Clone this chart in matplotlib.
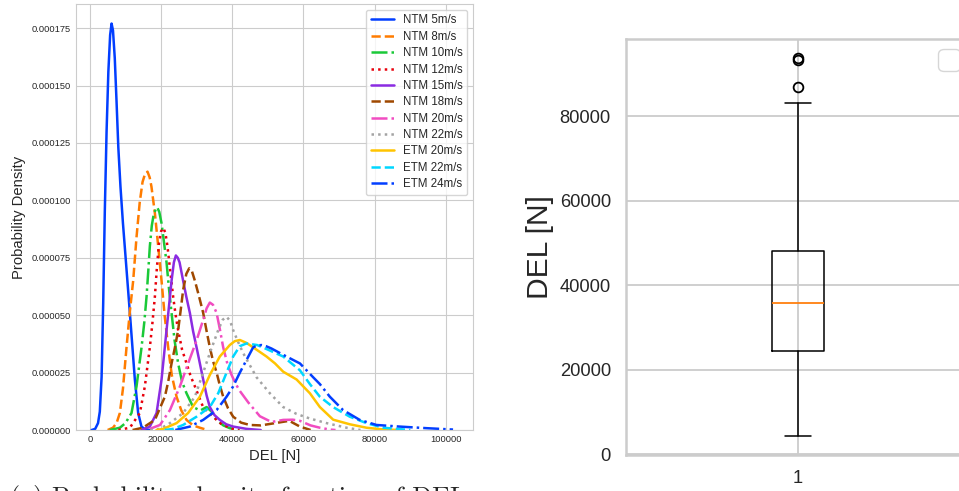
import numpy as np
import matplotlib
matplotlib.use("Agg")
import matplotlib.pyplot as plt
import seaborn as sns

# values
# density curves: x in N, y in units of 1e-5 (probability density)
ntm5_x = [500, 1500, 2300, 2800, 3300, 3750, 4200, 4700, 5200, 5700, 6100, 6500, 7000, 7500, 8000, 8600, 9300, 10000, 11240, 12640, 13570, 14500, 15500, 17000]
ntm5_y = [0, 0.05, 0.3, 0.8, 2.3, 5.5, 9.5, 13.0, 15.6, 17.2, 17.7, 17.4, 16.2, 14.3, 12.3, 10.6, 9.0, 7.6, 5.1, 2.2, 0.74, 0.15, 0.03, 0]

ntm8_x = [5000, 6500, 7500, 8430, 9300, 10300, 11200, 12170, 13110, 14000, 14800, 15500, 16200, 16800, 17300, 18260, 19200, 20140, 21000, 22000, 23000, 24350, 25700, 27150, 29000, 30900, 33000]
ntm8_y = [0, 0.1, 0.3, 0.74, 1.8, 3.6, 5.1, 6.5, 8.4, 9.9, 10.8, 11.15, 11.25, 11.0, 10.6, 9.45, 8.0, 6.5, 5.0, 3.6, 2.4, 1.45, 0.85, 0.44, 0.2, 0.1, 0]

ntm10_x = [5600, 8430, 10000, 11700, 13110, 14520, 15300, 15920, 16400, 16850, 17400, 18000, 18900, 19500, 20140, 20800, 21540, 22200, 22950, 23800, 24800, 25900, 27150, 29000, 31000, 32800, 34200, 35600, 37500, 39300, 42000]
ntm10_y = [0, 0.1, 0.3, 0.74, 1.9, 3.6, 4.7, 5.8, 6.9, 8.0, 8.9, 9.45, 9.7, 9.5, 9.0, 8.2, 7.3, 6.2, 5.1, 3.9, 2.9, 2.1, 1.6, 1.0, 0.85, 1.0, 0.8, 0.44, 0.2, 0.08, 0]

ntm12_x = [8000, 11240, 14050, 15450, 16850, 17600, 18260, 18800, 19400, 20000, 20600, 21200, 21800, 22600, 23400, 24100, 24800, 25900, 27150, 28300, 29500, 31800, 34600, 37000, 40200, 42000]
ntm12_y = [0, 0.1, 0.74, 1.9, 3.6, 4.7, 5.8, 7.0, 8.1, 8.65, 8.8, 8.6, 8.0, 6.9, 5.8, 5.0, 4.35, 3.5, 2.9, 2.35, 1.9, 1.0, 0.58, 0.25, 0.05, 0]

ntm15_x = [14500, 16850, 18740, 20140, 21540, 22300, 22950, 23600, 24160, 24700, 25200, 26200, 27100, 28090, 29000, 29970, 30900, 31830, 32800, 33700, 35000, 36500, 38300, 40250, 44000, 48000]
ntm15_y = [0, 0.15, 0.74, 2.2, 4.35, 5.5, 6.5, 7.3, 7.6, 7.5, 7.3, 6.5, 5.8, 5.1, 4.3, 3.6, 2.9, 2.2, 1.5, 1.0, 0.65, 0.44, 0.25, 0.15, 0.05, 0]

ntm18_x = [12000, 14900, 18260, 21070, 22000, 22950, 23900, 24800, 25500, 26200, 27100, 27900, 28700, 29500, 30700, 31830, 32800, 33700, 34600, 35600, 36500, 37450, 38800, 40250, 42500, 44900, 48000, 52000, 56000, 59000, 62000]
ntm18_y = [0, 0.1, 0.44, 1.45, 2.1, 2.9, 3.6, 4.35, 5.2, 6.1, 6.8, 7.04, 6.9, 6.5, 5.8, 5.1, 4.3, 3.6, 3.0, 2.5, 1.95, 1.45, 0.95, 0.58, 0.32, 0.22, 0.2, 0.3, 0.4, 0.15, 0]

ntm20_x = [16850, 19700, 22500, 25300, 27600, 29970, 31830, 32800, 33700, 34600, 35600, 36500, 37450, 38600, 39800, 41000, 42130, 44500, 47750, 51000, 54300, 57000, 59000, 62000, 64600, 67400, 69000]
ntm20_y = [0.05, 0.22, 0.87, 1.9, 2.9, 3.9, 4.8, 5.3, 5.55, 5.45, 5.1, 4.4, 3.6, 2.9, 2.4, 2.0, 1.7, 1.2, 0.6, 0.35, 0.44, 0.45, 0.4, 0.2, 0.1, 0.02, 0]

ntm22_x = [17000, 19700, 22500, 26200, 29500, 31830, 33700, 36050, 37300, 38400, 39400, 40250, 41600, 43060, 46800, 50560, 54300, 58060, 61800, 66500, 72100, 76000]
ntm22_y = [0, 0.05, 0.3, 0.74, 1.45, 2.5, 3.35, 4.35, 4.8, 4.93, 4.75, 4.35, 3.85, 3.35, 2.3, 1.6, 1.0, 0.7, 0.5, 0.3, 0.1, 0]

etm20_x = [18700, 20600, 24350, 27600, 30900, 33700, 36500, 39300, 40700, 42130, 43900, 45870, 49620, 52000, 54300, 58060, 61800, 64600, 68340, 73000, 77700, 82000, 87000]
etm20_y = [0, 0.05, 0.3, 0.74, 1.45, 2.4, 3.2, 3.7, 3.87, 3.92, 3.8, 3.6, 3.2, 2.9, 2.54, 2.2, 1.6, 1.0, 0.45, 0.25, 0.1, 0.03, 0]

etm22_x = [21000, 23400, 26200, 29970, 33700, 36050, 38400, 40250, 42100, 44000, 47000, 50000, 54300, 59000, 61800, 64600, 68300, 73000, 77700, 82400, 90000]
etm22_y = [0, 0.05, 0.22, 0.58, 1.0, 1.6, 2.5, 3.2, 3.65, 3.77, 3.7, 3.5, 3.2, 2.6, 2.0, 1.45, 1.0, 0.58, 0.3, 0.1, 0]

etm24_x = [24000, 28100, 31830, 35600, 38400, 40250, 42130, 44000, 45870, 47000, 48200, 49500, 51000, 54000, 57100, 59000, 60860, 62700, 64600, 67400, 71100, 75800, 80500, 87000, 94600, 102000]
etm24_y = [0, 0.15, 0.44, 0.87, 1.45, 1.9, 2.5, 3.05, 3.6, 3.68, 3.7, 3.65, 3.55, 3.3, 3.05, 2.9, 2.6, 2.3, 2.0, 1.45, 0.87, 0.44, 0.22, 0.15, 0.08, 0.02]

labels = ["NTM 5m/s", "NTM 8m/s", "NTM 10m/s", "NTM 12m/s", "NTM 15m/s", "NTM 18m/s",
          "NTM 20m/s", "NTM 22m/s", "ETM 20m/s", "ETM 22m/s", "ETM 24m/s"]
curves = [(ntm5_x, ntm5_y), (ntm8_x, ntm8_y), (ntm10_x, ntm10_y), (ntm12_x, ntm12_y),
          (ntm15_x, ntm15_y), (ntm18_x, ntm18_y), (ntm20_x, ntm20_y), (ntm22_x, ntm22_y),
          (etm20_x, etm20_y), (etm22_x, etm22_y), (etm24_x, etm24_y)]

# boxplot stats of all DEL values
box_q1 = 24370
box_median = 35820
box_q3 = 48090
box_whislo = 4270
box_whishi = 83110
box_fliers = [87000, 93240, 93790]

caption = "(a) Probability density function of DEL"

sns.set_style("whitegrid")
plt.rcParams['font.family'] = ['Liberation Sans', 'DejaVu Sans']

palette = sns.color_palette("bright", 10)
styles = ['-', '--', '-.', ':']

fig = plt.figure(figsize=(9.59, 4.91), dpi=100)

# left: density curves
ax1 = fig.add_axes([0.0792, 0.1242, 0.414, 0.8676])
for i, ((xs, ys), lab) in enumerate(zip(curves, labels)):
    ax1.plot(xs, np.array(ys) * 1e-5, color=palette[i % 10], linestyle=styles[i % 4],
             lw=1.8, label=lab)
ax1.set_xlim(-3900, 107600)
ax1.set_ylim(0, 0.0001855)
ax1.set_xticks(np.arange(0, 100001, 20000))
ax1.set_yticks(np.arange(0, 0.000176, 0.000025))
ax1.yaxis.set_major_formatter(matplotlib.ticker.FormatStrFormatter('%.6f'))
ax1.tick_params(labelsize=6.7, colors='.15', length=0)
ax1.set_xlabel("DEL [N]", fontsize=10.6, color='.15')
ax1.set_ylabel("Probability Density", fontsize=10.6, color='.15')
ax1.legend(loc='upper right', fontsize=8.3, labelspacing=0.38)

# right: boxplot of DEL
ax2 = fig.add_axes([0.6528, 0.0733, 0.3587, 0.847])
stats = [dict(med=box_median, q1=box_q1, q3=box_q3, whislo=box_whislo,
              whishi=box_whishi, fliers=box_fliers, label="1")]
ax2.bxp(stats, positions=[1], widths=0.15,
        boxprops=dict(color='black', lw=1.1),
        whiskerprops=dict(color='black', lw=1.1),
        capprops=dict(color='black', lw=1.1),
        medianprops=dict(color='#ff7f0e', lw=1.3),
        flierprops=dict(marker='o', markerfacecolor='none', markeredgecolor='black',
                        markersize=7, markeredgewidth=1.3))
ax2.set_xlim(0.5, 1.5)
ax2.set_yticks(np.arange(0, 80001, 20000))
ax2.tick_params(labelsize=13.2, colors='.15', length=0, pad=11)
ax2.set_ylabel("DEL [N]", fontsize=21.6, color='.15')
ax2.grid(True, lw=1.3)
for sp in ax2.spines.values():
    sp.set_linewidth(1.8)
ax2.legend(handles=[], labels=[], loc='upper right', fontsize=20, borderaxespad=0.35)

# caption, only its top shows at the bottom edge
fig.text(10 / 959, 0.012, caption, fontsize=18.8, family='cmr10', va='top', ha='left')

fig.savefig("out.png", dpi=100)
